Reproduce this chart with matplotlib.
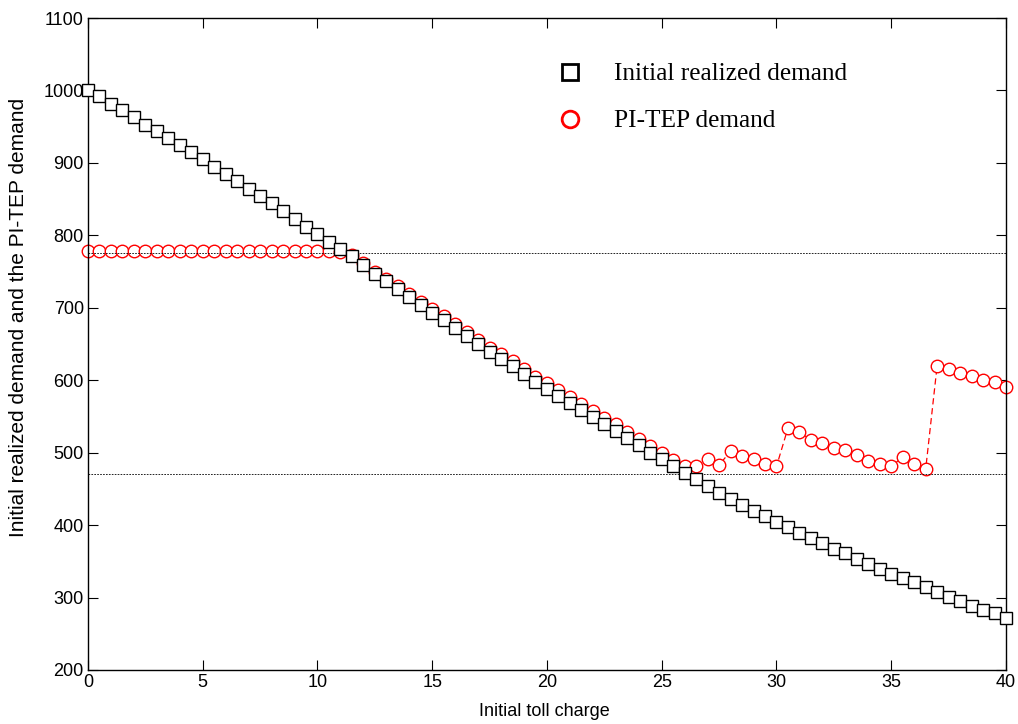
import matplotlib
matplotlib.use("Agg")
import matplotlib.pyplot as plt
from matplotlib.lines import Line2D
import numpy as np

# toll charge values, step 0.5
toll = np.arange(0, 40.5, 0.5)

initialDemand = [1000, 993, 981, 973, 963, 953, 944, 935, 925, 915,
                 905, 895, 885, 875, 864, 854, 844, 834, 822, 811,
                 802, 791, 781, 771, 759, 747, 737, 726, 715, 704,
                 693, 683, 672, 661, 650, 639, 629, 619, 608, 597,
                 588, 578, 569, 559, 549, 539, 530, 520, 510, 500,
                 491, 481, 472, 463, 454, 445, 436, 428, 420, 412,
                 404, 397, 389, 382, 375, 367, 361, 353, 347, 340,
                 332, 327, 321, 315, 307, 301, 295, 289, 283, 278,
                 272]

pitepDemand = [778, 778, 778, 778, 778, 778, 778, 778, 778, 778,
               778, 778, 778, 778, 778, 778, 778, 778, 778, 778,
               778, 778, 777, 773, 762, 750, 740, 730, 719, 708,
               698, 688, 677, 667, 656, 645, 636, 626, 615, 605,
               596, 586, 577, 567, 558, 548, 539, 529, 519, 509,
               500, 490, 482, 481, 491, 483, 502, 496, 491, 485,
               481, 534, 528, 518, 513, 506, 503, 497, 489, 484,
               481, 494, 485, 477, 620, 616, 610, 606, 601, 597,
               590]

refLevels = [776, 471]

plt.rcParams['font.family'] = ['Liberation Sans', 'DejaVu Sans']

fig = plt.figure(figsize=(10.18, 7.24), dpi=100)
ax = fig.add_axes([0.0864, 0.0746, 0.9018, 0.9005])

ax.plot(toll, pitepDemand, color='red', ls=(0, (5, 3)), lw=0.9,
        marker='o', ms=9, mfc='white', mec='red', mew=1.0, zorder=2, clip_on=False)
for lvl in refLevels:
    ax.plot([0, 40], [lvl, lvl], color='black', ls=(0, (2, 1.5)), lw=0.6, zorder=3)
ax.plot(toll, initialDemand, color='black', lw=0.8,
        marker='s', ms=8.4, mfc='white', mec='black', mew=1.0, zorder=4, clip_on=False)

ax.set_xlim(0, 40)
ax.set_ylim(200, 1100)
ax.set_xticks(range(0, 41, 5))
ax.set_yticks(range(200, 1101, 100))
ax.tick_params(direction='in', length=7, width=0.8, top=True, right=True,
               labelsize=13, pad=3)
for sp in ax.spines.values():
    sp.set_linewidth(1.0)

ax.set_xlabel('Initial toll charge', fontsize=13)
ax.xaxis.set_label_coords(0.497, -0.050)
ax.set_ylabel('Initial realized demand and the PI-TEP demand', fontsize=15)
ax.yaxis.set_label_coords(-0.0655, 0.54)

handles = [Line2D([], [], ls='none', marker='s', ms=12, mfc='white', mec='black', mew=2),
           Line2D([], [], ls='none', marker='o', ms=12, mfc='white', mec='red', mew=2)]
fig.legend(handles, ['Initial realized demand', 'PI-TEP demand'],
           loc='upper left', bbox_to_anchor=(545 / 1018, 1 - 50 / 724),
           frameon=False, handlelength=1.0, handletextpad=1.2,
           labelspacing=0.95, borderpad=0,
           prop={'family': 'Liberation Serif', 'size': 18.3})

fig.savefig('out.png', dpi=100)
